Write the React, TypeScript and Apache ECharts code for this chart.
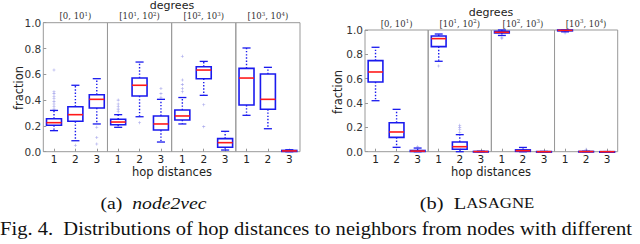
import React, { useEffect, useRef } from "react";
import * as echarts from "echarts";

const hops = ["1", "2", "3"];
const degreeBins = ["[0, 10^1)", "[10^1, 10^2)", "[10^2, 10^3)", "[10^3, 10^4)"];

// [min, q1, median, q3, max] for hop 1..3, per degree bin
const node2vecBin0 = [[0.163, 0.205, 0.225, 0.256, 0.32], [0.085, 0.236, 0.287, 0.349, 0.515], [0.215, 0.339, 0.406, 0.442, 0.566]];
const node2vecBin1 = [[0.189, 0.209, 0.23, 0.251, 0.287], [0.271, 0.432, 0.515, 0.571, 0.695], [0.075, 0.168, 0.215, 0.277, 0.406]];
const node2vecBin2 = [[0.215, 0.246, 0.277, 0.323, 0.42], [0.437, 0.566, 0.633, 0.659, 0.70], [0.013, 0.034, 0.07, 0.101, 0.158]];
const node2vecBin3 = [[0.282, 0.362, 0.571, 0.646, 0.804], [0.178, 0.329, 0.406, 0.602, 0.654], [0.0, 0.002, 0.006, 0.01, 0.015]];

const lasagneBin0 = [[0.419, 0.573, 0.655, 0.748, 0.858], [0.036, 0.118, 0.162, 0.238, 0.348], [0.0, 0.002, 0.005, 0.01, 0.03]];
const lasagneBin1 = [[0.743, 0.863, 0.929, 0.951, 0.967], [0.0, 0.02, 0.041, 0.08, 0.14], [0.0, 0.0, 0.001, 0.002, 0.004]];
const lasagneBin2 = [[0.955, 0.975, 0.981, 0.99, 1.0], [0.0, 0.003, 0.008, 0.015, 0.035], [0.0, 0.0, 0.0, 0.001, 0.002]];
const lasagneBin3 = [[0.985, 0.993, 0.997, 1.0, 1.0], [0.0, 0.0, 0.001, 0.002, 0.004], [0.0, 0.0, 0.0, 0.0, 0.001]];

// outliers per hop, per degree bin
const node2vecOut0 = [[0.33, 0.35, 0.37, 0.39, 0.41, 0.43, 0.45, 0.465, 0.633], [0.05], [0.19, 0.11, 0.06]];
const node2vecOut1 = [[0.31, 0.33, 0.35, 0.37, 0.40], [0.225], [0.42, 0.45, 0.49]];
const node2vecOut2 = [[0.465, 0.49, 0.52, 0.556, 0.74], [0.364, 0.194], []];
const node2vecOut3 = [[], [], []];

const lasagneOut0 = [[], [], [0.04]];
const lasagneOut1 = [[0.704], [0.16, 0.18, 0.20, 0.217], []];
const lasagneOut2 = [[0.93, 0.94], [], []];
const lasagneOut3 = [[0.975], [0.02], []];

const node2vecBoxes = [node2vecBin0, node2vecBin1, node2vecBin2, node2vecBin3];
const node2vecOutliers = [node2vecOut0, node2vecOut1, node2vecOut2, node2vecOut3];
const lasagneBoxes = [lasagneBin0, lasagneBin1, lasagneBin2, lasagneBin3];
const lasagneOutliers = [lasagneOut0, lasagneOut1, lasagneOut2, lasagneOut3];

const BLUE = "#1a1aee";
const RED = "#ff1a1a";
const FRAME = "#999999";
const SANS = "DejaVu Sans";
const SERIF = "Liberation Serif";

function labelRich(v: string) {
  const parts = v.split(/\^(\d)/);
  return parts.map((p, i) => (i % 2 ? `{s|${p}}` : `{n|${p}}`)).join("");
}

function renderBox(params: any, api: any) {
  const x = api.value(0);
  const vals = [1, 2, 3, 4, 5].map((d) => api.value(d));
  const pts = vals.map((v) => api.coord([x, v]));
  const band = api.size([1, 0])[0];
  const bw = band * 0.7;
  const half = bw / 2;
  const cap = bw * 0.27;
  const cx = pts[0][0];
  const [pMin, pQ1, pMed, pQ3, pMax] = pts;
  const wStyle = { stroke: BLUE, lineWidth: 1.4, lineDash: [1.4, 1.8] };
  const cStyle = { stroke: BLUE, lineWidth: 1.3 };
  return {
    type: "group",
    children: [
      { type: "line", shape: { x1: cx, y1: pQ3[1], x2: cx, y2: pMax[1] }, style: wStyle },
      { type: "line", shape: { x1: cx, y1: pQ1[1], x2: cx, y2: pMin[1] }, style: wStyle },
      { type: "line", shape: { x1: cx - cap, y1: pMax[1], x2: cx + cap, y2: pMax[1] }, style: cStyle },
      { type: "line", shape: { x1: cx - cap, y1: pMin[1], x2: cx + cap, y2: pMin[1] }, style: cStyle },
      {
        type: "rect",
        shape: { x: cx - half, y: pQ3[1], width: bw, height: Math.max(pQ1[1] - pQ3[1], 0.5) },
        style: { fill: "none", stroke: BLUE, lineWidth: 1.6 },
      },
      { type: "line", shape: { x1: cx - half, y1: pMed[1], x2: cx + half, y2: pMed[1] }, style: { stroke: RED, lineWidth: 1.6 } },
    ],
  };
}

type PlotLayout = { x0: number; x1: number; top: number; bottom: number };

function buildPlot(
  boxes: number[][][],
  outliers: number[][][],
  layout: PlotLayout,
  gridOffset: number,
  grid: any[],
  xAxis: any[],
  yAxis: any[],
  series: any[]
) {
  const w = (layout.x1 - layout.x0) / 4;
  for (let i = 0; i < 4; i++) {
    const gi = gridOffset + i;
    grid.push({
      left: layout.x0 + i * w,
      top: layout.top,
      width: w,
      height: layout.bottom - layout.top,
      show: true,
      borderColor: FRAME,
      borderWidth: 1,
      backgroundColor: "transparent",
    });
    const xb = xAxis.length;
    xAxis.push({
      type: "category",
      gridIndex: gi,
      data: hops,
      position: "bottom",
      axisLine: { show: false },
      axisTick: { show: true, inside: true, length: 3, alignWithLabel: true, lineStyle: { color: FRAME } },
      axisLabel: { fontFamily: SANS, fontSize: 10.5, lineHeight: 11, color: "#222", margin: 2 },
      splitLine: { show: false },
    });
    xAxis.push({
      type: "category",
      gridIndex: gi,
      data: [degreeBins[i]],
      position: "top",
      axisLine: { show: false },
      axisTick: { show: false },
      axisLabel: {
        margin: 2,
        formatter: (v: string) => labelRich(v),
        rich: {
          n: { fontFamily: "DejaVu Serif", fontSize: 8.5, color: "#333", verticalAlign: "bottom" },
          s: { fontFamily: "DejaVu Serif", fontSize: 5.5, color: "#333", verticalAlign: "bottom", padding: [0, 0, 4, 0] },
        },
      },
    });
    const yi = yAxis.length;
    yAxis.push({
      type: "value",
      gridIndex: gi,
      min: 0,
      max: 1,
      interval: 0.2,
      axisLine: { show: false },
      axisTick: { show: i === 0, inside: true, length: 3, lineStyle: { color: FRAME } },
      splitLine: { show: false },
      axisLabel: {
        show: i === 0,
        fontFamily: SANS,
        fontSize: 10.5,
        color: "#333",
        margin: 2,
        formatter: (v: number) => v.toFixed(1),
      },
    });
    series.push({
      type: "custom",
      xAxisIndex: xb,
      yAxisIndex: yi,
      renderItem: renderBox,
      encode: { x: 0, y: [1, 2, 3, 4, 5] },
      data: boxes[i].map((b, h) => [h, ...b]),
      z: 3,
    });
    const pts: number[][] = [];
    outliers[i].forEach((arr, h) => arr.forEach((v) => pts.push([h, v])));
    series.push({
      type: "scatter",
      xAxisIndex: xb,
      yAxisIndex: yi,
      data: pts,
      symbol: "path://M4,0H6V4H10V6H6V10H4V6H0V4H4Z",
      symbolSize: 3,
      itemStyle: { color: "#9090e6", opacity: 0.8 },
      z: 2,
    });
  }
}

export default function App() {
  const ref = useRef<HTMLDivElement>(null);
  useEffect(() => {
    if (!ref.current) return;
    const chart = echarts.init(ref.current, undefined, { renderer: "svg" });
    const grid: any[] = [];
    const xAxis: any[] = [];
    const yAxis: any[] = [];
    const series: any[] = [];
    buildPlot(node2vecBoxes, node2vecOutliers, { x0: 43.3, x1: 300, top: 22.7, bottom: 151.7 }, 0, grid, xAxis, yAxis, series);
    buildPlot(lasagneBoxes, lasagneOutliers, { x0: 365, x1: 617.7, top: 30, bottom: 151.7 }, 4, grid, xAxis, yAxis, series);

    const axisText = (text: string, x: number, y: number, rotation = 0, size = 11.5) => ({
      type: "text",
      x,
      y,
      rotation,
      style: {
        text,
        fontFamily: SANS,
        fontSize: size,
        lineHeight: size + 1,
        fill: "#222",
        align: "center",
        verticalAlign: "middle",
      },
    });

    chart.setOption({
      animation: false,
      backgroundColor: "#ffffff",
      grid,
      xAxis,
      yAxis,
      series,
      graphic: [
        axisText("degrees", 172, 5, 0, 11),
        axisText("degrees", 491, 12.5, 0, 11),
        axisText("hop distances", 172, 171.5, 0, 11.5),
        axisText("hop distances", 491, 171.5, 0, 11.5),
        axisText("fraction", 19, 88, Math.PI / 2),
        axisText("fraction", 338, 92, Math.PI / 2),
        {
          type: "text",
          x: 153.5,
          y: 203,
          scaleX: 1.16,
          style: {
            text: "{a|(a)  }{b|node2vec}",
            align: "center",
            verticalAlign: "middle",
            rich: {
              a: { fontFamily: SERIF, fontSize: 17, fill: "#111" },
              b: { fontFamily: SERIF, fontSize: 17, fontStyle: "italic", fill: "#111" },
            },
          },
        },
        {
          type: "text",
          x: 477,
          y: 203,
          scaleX: 1.2,
          style: {
            text: "{a|(b)  L}{c|ASAGNE}",
            align: "center",
            verticalAlign: "middle",
            rich: {
              a: { fontFamily: SERIF, fontSize: 17, fill: "#111" },
              c: { fontFamily: SERIF, fontSize: 14, fill: "#111" },
            },
          },
        },
        {
          type: "text",
          x: 0,
          y: 229,
          scaleX: 1.142,
          style: {
            text: "Fig. 4.  Distributions of hop distances to neighbors from nodes with different",
            fontFamily: SERIF,
            fontSize: 18,
            fill: "#111",
            align: "left",
            verticalAlign: "middle",
          },
        },
      ],
    });
    return () => chart.dispose();
  }, []);
  return (
    <div
      ref={ref}
      style={{ position: "absolute", left: 0, top: 0, width: 640, height: 244, background: "#fff" }}
    />
  );
}
